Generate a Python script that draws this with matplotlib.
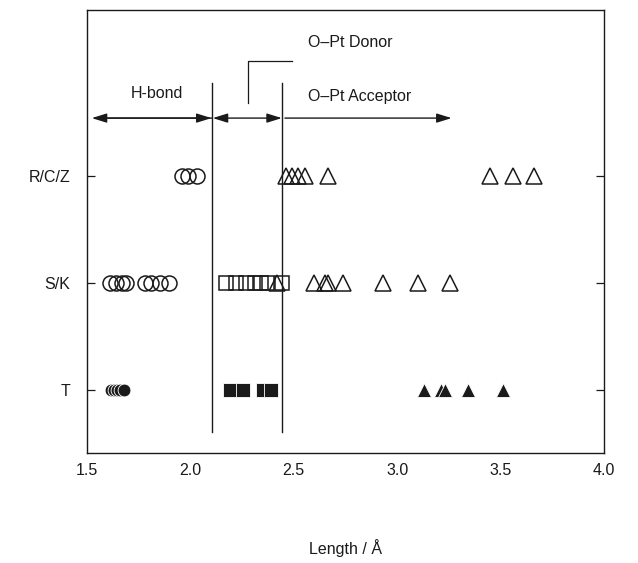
import numpy as np
import matplotlib
matplotlib.use("Agg")
from matplotlib import pyplot as plt

plt.rcParams['font.family'] = ['Liberation Sans', 'DejaVu Sans']

# filas (eje y)
row_labels = ["T", "S/K", "R/C/Z"]
row_pos = [1, 2, 3]

# R/C/Z
rcz_circles = [1.96, 1.99, 2.03]
rcz_triangles = [2.46, 2.49, 2.52, 2.555, 2.665, 3.45, 3.56, 3.66]
# S/K
sk_circles = [1.61, 1.64, 1.67, 1.69, 1.78, 1.81, 1.855, 1.895]
sk_squares = [2.17, 2.22, 2.27, 2.31, 2.34, 2.37, 2.445]
sk_triangles = [2.42, 2.60, 2.65, 2.665, 2.74, 2.93, 3.10, 3.255]
# T
t_circles = [1.615, 1.63, 1.645, 1.66, 1.68]
t_squares = [2.19, 2.255, 2.35, 2.39]
t_triangles = [3.13, 3.212, 3.23, 3.34, 3.51]

# limites de regiones
hbond_limit = 2.105
donor_limit = 2.445

fig = plt.figure(figsize=(6.38, 5.63), dpi=100)
ax = fig.add_axes([0.1364, 0.1954, 0.8103, 0.7868])

k = "#1a1a1a"
open_kw = dict(ls="none", mfc="none", mec=k, mew=1.1)
fill_kw = dict(ls="none", mfc=k, mec="white", mew=0.6)

# abiertos
ax.plot(rcz_circles, [3] * len(rcz_circles), "o", ms=10.8, **open_kw)
ax.plot(rcz_triangles, [3] * len(rcz_triangles), "^", ms=12, **open_kw)
ax.plot(sk_circles, [2] * len(sk_circles), "o", ms=10.8, **open_kw)
ax.plot(sk_squares, [2] * len(sk_squares), "s", ms=9.5, **open_kw)
ax.plot(sk_triangles, [2] * len(sk_triangles), "^", ms=12, **open_kw)
# rellenos (borde blanco)
ax.plot(t_circles, [1] * len(t_circles), "o", ms=9.2, **fill_kw)
ax.plot(t_squares, [1] * len(t_squares), "s", ms=9.6, **fill_kw)
ax.plot(t_triangles, [1] * len(t_triangles), "^", ms=10.5, **fill_kw)

# lineas verticales
for xv in [hbond_limit, donor_limit]:
    ax.plot([xv, xv], [0.61, 3.87], color=k, lw=1.0)

# flechas
y_arr = 3.54
head = dict(color=k, lw=1.0, shrinkA=0, shrinkB=0)
style = "-|>,head_length=0.9,head_width=0.28"
ax.annotate("", xy=(1.523, y_arr), xytext=(hbond_limit, y_arr),
            arrowprops=dict(arrowstyle=style, **head))
ax.annotate("", xy=(hbond_limit - 0.003, y_arr), xytext=(1.6, y_arr),
            arrowprops=dict(arrowstyle=style, **head))
ax.annotate("", xy=(hbond_limit + 0.003, y_arr), xytext=(donor_limit - 0.003, y_arr),
            arrowprops=dict(arrowstyle="<|-|>,head_length=0.9,head_width=0.28", **head))
ax.annotate("", xy=(3.263, y_arr), xytext=(donor_limit + 0.012, y_arr),
            arrowprops=dict(arrowstyle=style, **head))

# textos
ax.text(1.84, 3.77, "H-bond", ha="center", va="center", fontsize=11.5, color=k)
ax.text(2.57, 4.25, "O–Pt Donor", ha="left", va="center", fontsize=11.5, color=k)
ax.text(2.57, 3.745, "O–Pt Acceptor", ha="left", va="center", fontsize=11.5, color=k)
ax.plot([2.28, 2.28, 2.49], [3.68, 4.07, 4.07], color=k, lw=0.9)

ax.set_xlim(1.5, 4.0)
ax.set_ylim(0.41, 4.55)
ax.set_xticks([1.5, 2.0, 2.5, 3.0, 3.5, 4.0])
ax.set_xticklabels(["1.5", "2.0", "2.5", "3.0", "3.5", "4.0"])
ax.set_yticks(row_pos)
ax.set_yticklabels(row_labels)
ax.tick_params(axis="y", direction="in", length=6, width=0.9, labelsize=11.5,
               colors=k, pad=12, right=True)
ax.tick_params(axis="x", length=0, labelsize=11.5, colors=k, pad=7)
for s in ax.spines.values():
    s.set_linewidth(1.0)
    s.set_color(k)
ax.set_xlabel("Length / Å", fontsize=11.5, color=k, labelpad=44)

fig.savefig("out.png", dpi=100)
